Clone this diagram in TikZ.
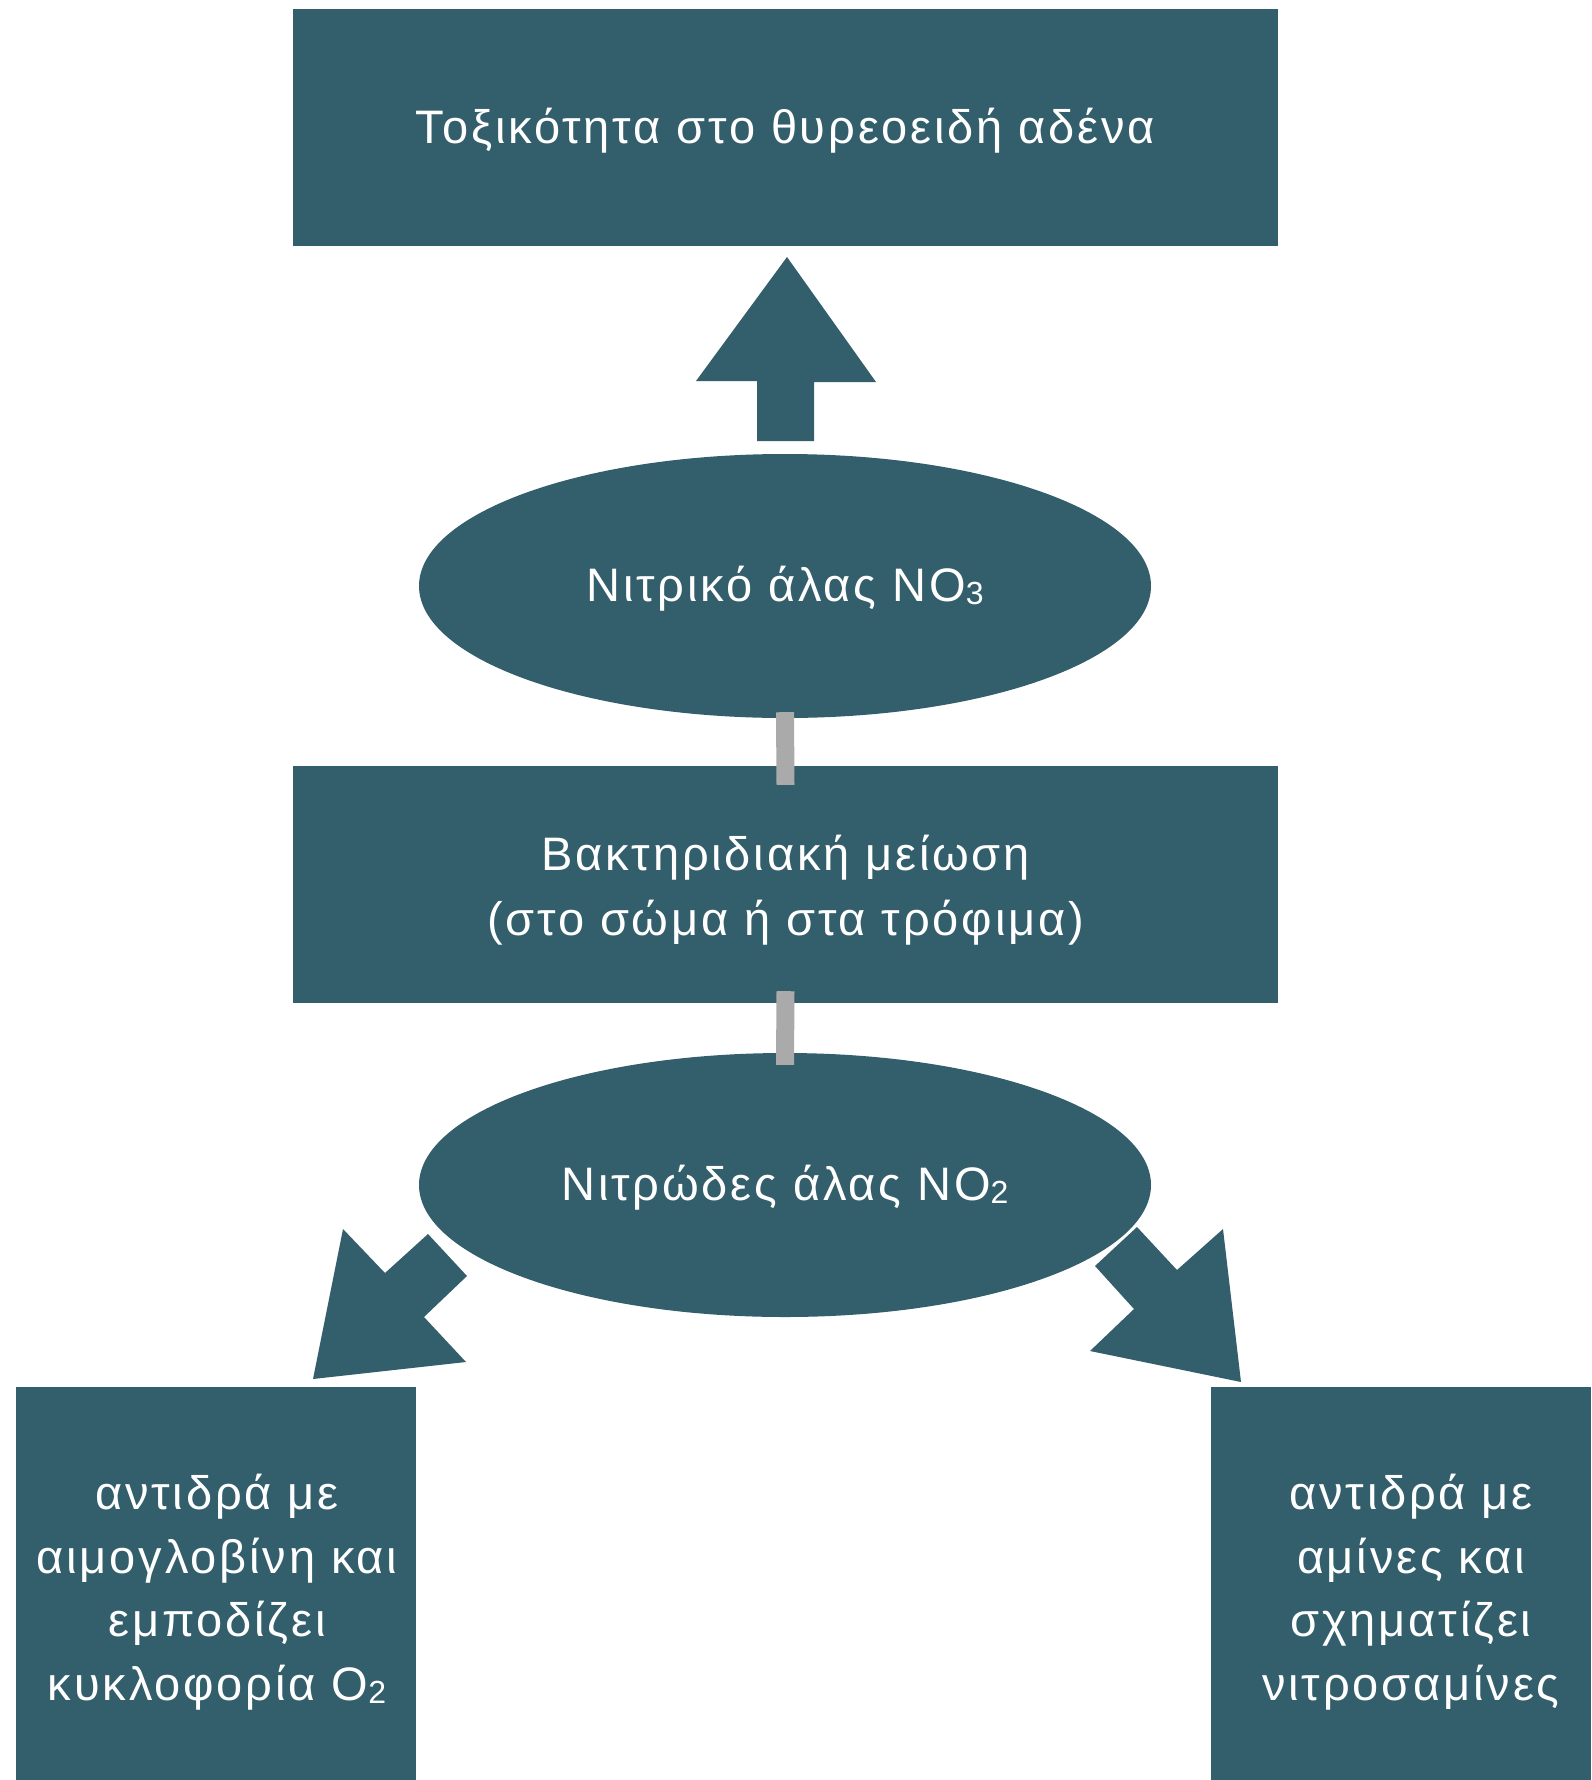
\documentclass[tikz,border=0pt]{standalone}
\usepackage{fontspec}
\setmainfont{Liberation Sans}[LetterSpace=6]
\usetikzlibrary{shapes.geometric}
\definecolor{teal}{HTML}{335E6B}
\definecolor{bargrey}{HTML}{AAAAAA}
\tikzset{
  box/.style={fill=teal, draw=none, inner sep=0pt},
  oval/.style={ellipse, fill=teal, draw=none, inner sep=0pt, minimum width=732pt, minimum height=264pt},
  label/.style={text=white, align=center, inner sep=0pt, font=\fontsize{47}{65}\selectfont},
  blockarrow/.style={fill=teal, draw=none},
  bar/.style={draw=bargrey, line width=18pt}
}
\newcommand{\sub}[1]{{\fontsize{32}{34}\selectfont\raisebox{-3pt}{#1}}}
\begin{document}
\begin{tikzpicture}[x=1pt,y=-1pt]
\useasboundingbox (0,0) rectangle (1591,1780);
% boxes
\node[box, minimum width=985pt, minimum height=237pt] (top) at (785.5,127.5) {};
\node[label] (topt) at (785.5,131) {Τοξικότητα στο θυρεοειδή αδένα};
\node[oval] (e1) at (785,586) {};
\node[label] (e1t) at (785,589) {Νιτρικό άλας NO\sub{3}};
\node[box, minimum width=985pt, minimum height=237pt] (mid) at (785.5,884.5) {};
\node[label] (midt) at (785.5,890) {Βακτηριδιακή μείωση\\(στο σώμα ή στα τρόφιμα)};
\node[oval] (e2) at (785,1185) {};
\node[label] (e2t) at (785,1188) {Νιτρώδες άλας NO\sub{2}};
\node[box, minimum width=400pt, minimum height=393pt] (bl) at (216,1583.5) {};
\node[box, minimum width=380pt, minimum height=393pt] (br) at (1401,1583.5) {};
\node[label, font=\fontsize{47}{63.5}\selectfont] (blt) at (217,1592) {αντιδρά με\\αιμογλοβίνη και\\εμποδίζει\\κυκλοφορία O\sub{2}};
\node[label, font=\fontsize{47}{63.5}\selectfont] (brt) at (1411,1592) {αντιδρά με\\αμίνες και\\σχηματίζει\\νιτροσαμίνες};
% grey bars
\draw[bar] ([yshift=6pt]e1.south) -- ([yshift=-19pt]mid.north);
\draw[bar] ([yshift=12pt]mid.south) -- ([yshift=-12pt]e2.north);
% block arrows
\fill[blockarrow] (787,257) -- (876,382) -- (814,382) -- (814,441) -- (757,441) -- (757,381) -- (696,381) -- cycle;
\fill[blockarrow] (313,1379) -- (343,1229) -- (385,1273) -- (428,1234) -- (467,1276) -- (424,1317) -- (466,1362) -- cycle;
\fill[blockarrow] (1241,1382) -- (1090,1351) -- (1134,1309) -- (1095,1266) -- (1137,1227) -- (1177,1270) -- (1223,1229) -- cycle;
\end{tikzpicture}
\end{document}
